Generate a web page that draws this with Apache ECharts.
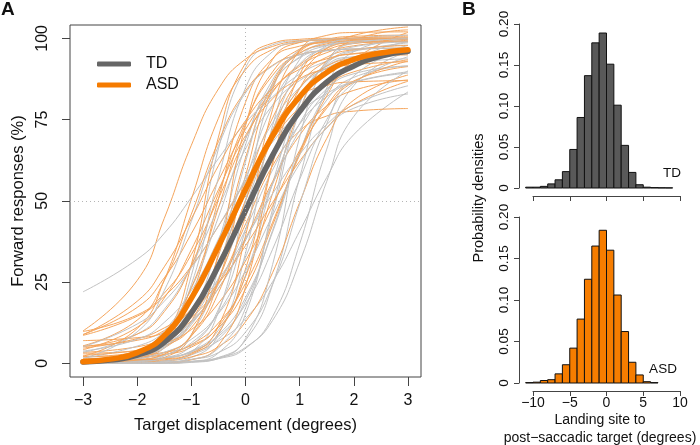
<!DOCTYPE html>
<html>
<head>
<meta charset="utf-8">
<script src="https://cdn.jsdelivr.net/npm/echarts@6/dist/echarts.min.js"></script>
<style>
html, body { margin: 0; padding: 0; background: #fff; }
#chart { width: 700px; height: 445px; }
</style>
</head>
<body>
<div id="chart"></div>
<script>
// x positions where the thin individual curves were read
const xThin = [-3, -2, -1.5, -1, -0.5, 0, 0.5, 1, 1.5, 2, 3];

// TD individual fits (% forward responses)
const tdCurves = [
  [0, 1.3, 6.5, 27, 66, 91, 98, 99.3, 99.5, 99.5, 99.5],
  [22, 32, 40, 51, 63, 74, 82, 89, 93, 96, 98.6],
  [0.1, 0.7, 1.6, 3.3, 6.9, 13.7, 25.1, 40.7, 57.2, 70.4, 83.5],
  [0, 0, 0.1, 0.4, 1.4, 4.6, 14.4, 36.7, 65.9, 85.5, 95.9],
  [0, 0, 0.1, 0.5, 1.8, 7.1, 24.2, 57.1, 84.7, 95.9, 99.7],
  [0, 0.3, 0.8, 2.6, 7.4, 19.2, 40.9, 65.2, 81, 88, 91.5],
  [1, 1.2, 1.7, 3.8, 10.2, 27.1, 55.5, 80.3, 92.2, 96.3, 97.9],
  [0, 0, 0.3, 1.8, 8.8, 33.9, 73.1, 93.5, 98.7, 99.7, 100],
  [0.7, 2.2, 5, 11.9, 26.2, 48.3, 70.3, 84.6, 91.5, 94.3, 95.8],
  [0.1, 1.4, 4.7, 14.7, 37.4, 67.2, 87.2, 95.3, 97.9, 98.6, 99],
  [3.4, 9, 16.6, 30, 48, 66, 79.4, 87, 90.8, 92.6, 93.7],
  [0.5, 2.6, 5.8, 12.4, 24.2, 41.2, 59.5, 73.6, 82, 86.4, 89.3],
  [0.6, 0.9, 1.7, 3.7, 8.8, 20.2, 40.4, 64.8, 83.3, 93.1, 99],
  [0, 0.6, 2.3, 8.9, 28.9, 62, 85.5, 94, 96.2, 96.7, 97],
  [0.8, 3.4, 6.7, 12.7, 23, 37.8, 55.3, 71.7, 83.8, 91.4, 97.8],
  [0.5, 3.9, 10, 23.1, 45, 69, 85.8, 94.3, 97.8, 99.2, 99.9],
  [0, 0, 0.1, 0.6, 3.2, 15.1, 47.5, 79.9, 91.7, 94.3, 95],
  [0, 0.6, 1.4, 3.6, 8.3, 18.2, 35.1, 56.6, 75, 86.2, 94.3],
  [1.2, 2.4, 5.3, 12.8, 29.8, 56, 79.3, 92.1, 97.2, 99.1, 100],
  [0.1, 0.9, 2.5, 6.3, 15.5, 32.6, 55.1, 73.8, 84.4, 89.1, 91.5],
  [0, 0.1, 0.4, 1.2, 3.3, 9.6, 24.3, 49, 73.7, 88.4, 96.8],
  [1.5, 9.7, 22.4, 43.7, 66.9, 83.2, 91.5, 94.9, 96.2, 96.7, 97],
  [1.6, 5.3, 9.3, 16, 25.9, 38.5, 52.2, 64.3, 73.5, 79.6, 85.4],
  [0, 0, 0.3, 1.2, 4.7, 17, 46, 77.6, 92.9, 97.4, 98.9],
  [0, 0.1, 0.7, 3.4, 15.9, 50, 84.1, 96.6, 99.3, 99.9, 100],
  [0, 0.2, 0.3, 0.6, 1.7, 4.9, 13.2, 31.2, 56, 76, 90],
  [0, 1.8, 7.1, 24.2, 57.1, 84.7, 95.9, 99, 99.7, 100, 100],
  [0.3, 1.5, 3.4, 7.4, 15.3, 28.5, 45.5, 61.4, 72.4, 78.5, 82.9],
  [3.8, 7.4, 12.6, 22.4, 38.2, 57.2, 74, 84.9, 90.8, 93.7, 95.5],
  [0, 0.5, 1.6, 5.4, 16.6, 41.1, 71.3, 90.3, 97.7, 100, 100.9],
  [0, 0, 0, 0.3, 1.5, 7.6, 30.4, 69.6, 92.4, 98.5, 99.9],
  [5.1, 12.1, 19.1, 29.4, 42.3, 56.1, 68.1, 77.1, 83, 86.6, 89.7]
];

// ASD individual fits
const asdCurves = [
  [10, 25.5, 44.6, 67.1, 84.4, 93.6, 97.5, 99.2, 99.7, 100, 100],
  [8.9, 17.2, 26.3, 39.9, 56.3, 72, 83.8, 91.4, 95.6, 97.7, 99.4],
  [7, 7.9, 9.4, 14, 24.7, 42.8, 60.8, 71.5, 76.1, 77.6, 78.4],
  [5.3, 7.1, 10.1, 16.8, 30, 50, 71.8, 87.9, 96.9, 100.9, 103.5],
  [5.4, 13.3, 25.5, 45.9, 68.2, 83.8, 91.7, 95, 96.3, 96.7, 97],
  [2, 3.4, 7.2, 20.7, 50.5, 80.3, 93.8, 97.6, 98.7, 99, 99],
  [1.1, 2.1, 4.7, 12.9, 33.1, 63.2, 86.2, 96.3, 99.6, 100.6, 101],
  [0.5, 0.6, 1.1, 2.8, 9.3, 29, 61.5, 84.6, 93, 95.2, 96],
  [3.4, 5.1, 7.8, 13.1, 23.1, 38.4, 55.9, 70.2, 79.2, 84, 87.2],
  [0, 1.5, 7.6, 30.4, 69.6, 92.4, 98.5, 99.7, 100, 100, 100],
  [2.1, 2.5, 3.4, 5.5, 11, 22.8, 42.5, 64.1, 79.2, 86.9, 91.3],
  [9.8, 14.9, 21.6, 33.5, 50.7, 69.2, 83.4, 91.9, 96.4, 98.4, 99.7],
  [1.5, 1.9, 2.7, 5, 11.4, 26.7, 52.3, 77.8, 93, 99.5, 102.6],
  [0, 0.3, 0.7, 2, 5.1, 12.8, 27.9, 49.5, 69.2, 81, 88.7],
  [0.8, 2.6, 6, 14.3, 30.7, 54.1, 75.5, 88.3, 94.2, 96.5, 97.8],
  [8.6, 14.5, 20.6, 29.9, 42.2, 56, 68.8, 78.8, 85.6, 89.7, 93.4],
  [2.2, 10.7, 25.6, 50.5, 75.4, 90.3, 96.6, 98.8, 99.6, 99.9, 100],
  [3.1, 3.8, 5.4, 11, 25.6, 50.2, 71.7, 82, 85.5, 86.6, 87],
  [0.2, 1.1, 2.6, 5.8, 12.4, 24.6, 43.4, 64.7, 82.3, 93.3, 101.8],
  [5.2, 9, 15.9, 30.2, 52.3, 74.3, 88.6, 95.5, 98.3, 99.4, 100],
  [0, 0, 0.2, 1.1, 5.5, 23.5, 61.6, 88.8, 96.9, 98.6, 99],
  [4.2, 11.1, 20.1, 35, 53.4, 70.1, 81.4, 87.6, 90.6, 91.9, 92.8],
  [1, 1.1, 1.4, 3.1, 11.4, 39.2, 78.1, 96.3, 100.9, 101.8, 102],
  [4.7, 7.6, 10.9, 16.3, 24.7, 36.2, 49.5, 62.2, 72.5, 79.7, 86.8],
  [0, 0.3, 1.8, 8.8, 33.9, 73.1, 93.5, 98.7, 99.7, 100, 100],
  [2.5, 4, 6.1, 10.4, 18.5, 31.5, 48.5, 65.5, 78.5, 86.6, 93],
  [1.5, 1.9, 3.3, 8.5, 25.3, 57.7, 84.9, 95.9, 99, 99.7, 100],
  [8.8, 19.1, 29.7, 44.5, 60.8, 74.7, 84.6, 90.5, 93.7, 95.3, 96.6],
  [0, 1, 2.9, 8.4, 21.7, 45, 69.4, 84.7, 91.4, 93.8, 94.9],
  [0.8, 3.6, 9.3, 23.3, 47.8, 73.6, 89.7, 96.7, 99.2, 100.1, 100.5]
];

// group mean curves
const xMean = [-3, -2.5, -2, -1.5, -1, -0.5, 0, 0.5, 1, 1.5, 2, 2.5, 3];
const tdMean = [0.4, 1.0, 2.5, 6.5, 15.5, 30, 47, 64, 77.5, 86.5, 91.5, 94.5, 96];
const asdMean = [0.5, 1.3, 3.3, 8.5, 20, 36, 53.5, 70, 82, 89.5, 93.5, 95.5, 96.5];

// histograms of landing error, bin width 1 deg
const tdBinLeft = [-11, -10, -9, -8, -7, -6, -5, -4, -3, -2, -1, 0, 1, 2, 3, 4, 5, 6, 7, 8];
const tdDensity = [0.001, 0.001, 0.002, 0.005, 0.01, 0.02, 0.047, 0.086, 0.137, 0.177,
                   0.189, 0.151, 0.101, 0.052, 0.019, 0.004, 0.001, 0.0005, 0.0003, 0.0002];
const asdBinLeft = [-11, -10, -9, -8, -7, -6, -5, -4, -3, -2, -1, 0, 1, 2, 3, 4, 5, 6];
const asdDensity = [0.0005, 0.001, 0.003, 0.004, 0.011, 0.022, 0.042, 0.077, 0.125, 0.165,
                    0.184, 0.160, 0.106, 0.062, 0.025, 0.0097, 0.0016, 0.0005];

const xTicksA = [-3, -2, -1, 0, 1, 2, 3];
const yTicksA = [0, 25, 50, 75, 100];

const FONT = 'Liberation Sans, Arial, Helvetica, sans-serif';
const AXC = '#444';
const TXT = '#111';
const minus = v => String(v).replace('-', '\u2212');

function zipXY(xs, ys) { return xs.map((x, i) => [x, ys[i]]); }

let chart = echarts.init(document.getElementById('chart'), null, { renderer: 'canvas' });

function thinLine(name, data, color) {
  return {
    name: name, type: 'line', xAxisIndex: 0, yAxisIndex: 0,
    data: data, smooth: 0.5, showSymbol: false, silent: true, z: 2,
    lineStyle: { color: color, width: 1 }
  };
}

let series = [];
// reference lines under everything
series.push({
  name: 'ref', type: 'line', xAxisIndex: 0, yAxisIndex: 0, data: [], silent: true, z: 1,
  markLine: {
    silent: true, symbol: ['none', 'none'], label: { show: false },
    lineStyle: { color: '#b5b5b5', type: [1, 3], width: 1 },
    data: [{ xAxis: 0 }, { yAxis: 50 }]
  }
});
// individual curves, groups interleaved
let n = Math.max(tdCurves.length, asdCurves.length);
for (let i = 0; i < n; i++) {
  if (i < tdCurves.length) series.push(thinLine('td' + i, zipXY(xThin, tdCurves[i]), '#c2c2c2'));
  if (i < asdCurves.length) series.push(thinLine('asd' + i, zipXY(xThin, asdCurves[i]), '#f5a55c'));
}
series.push({
  name: 'TD', type: 'line', xAxisIndex: 0, yAxisIndex: 0,
  data: zipXY(xMean, tdMean), smooth: 0.5,
  showSymbol: false, z: 4, itemStyle: { color: '#666666' },
  lineStyle: { color: '#666666', width: 5.5, cap: 'round' }
});
series.push({
  name: 'ASD', type: 'line', xAxisIndex: 0, yAxisIndex: 0,
  data: zipXY(xMean, asdMean), smooth: 0.5,
  showSymbol: false, z: 5, itemStyle: { color: '#f57b00' },
  lineStyle: { color: '#f57b00', width: 5.5, cap: 'round' }
});

function histSeries(idx, left, dens, fill) {
  return {
    type: 'custom', xAxisIndex: idx, yAxisIndex: idx, clip: false, silent: true,
    data: left.map((l, i) => [l, dens[i]]),
    renderItem: function (params, api) {
      let p0 = api.coord([api.value(0), 0]);
      let p1 = api.coord([api.value(0) + 1, api.value(1)]);
      return {
        type: 'rect',
        shape: { x: p0[0], y: p1[1], width: p1[0] - p0[0], height: p0[1] - p1[1] },
        style: { fill: fill, stroke: '#111', lineWidth: 1 }
      };
    }
  };
}
series.push(histSeries(1, tdBinLeft, tdDensity, '#595959'));
series.push(histSeries(2, asdBinLeft, asdDensity, '#f67d00'));

function histX(idx, showLabels) {
  return {
    type: 'value', gridIndex: idx, min: -10, max: 10, interval: 5, offset: 8,
    axisLine: { show: true, onZero: false, lineStyle: { color: AXC, width: 1 } },
    axisTick: { show: true, length: 5, lineStyle: { color: AXC } },
    axisLabel: { show: showLabels, margin: 5, fontSize: 14, fontFamily: FONT, color: TXT, formatter: minus },
    splitLine: { show: false }
  };
}
function histY(idx) {
  return {
    type: 'value', gridIndex: idx, min: 0, max: 0.2, interval: 0.05, offset: 14,
    axisLine: { show: true, onZero: false, lineStyle: { color: AXC, width: 1 } },
    axisTick: { show: true, length: 5, lineStyle: { color: AXC } },
    axisLabel: { rotate: 90, margin: 8, fontSize: 13.5, fontFamily: FONT, color: TXT,
                 formatter: v => v === 0 ? '0' : v.toFixed(2) },
    splitLine: { show: false }
  };
}

let option = {
  animation: false,
  backgroundColor: '#fff',
  textStyle: { fontFamily: FONT },
  grid: [
    { left: 70, top: 25, width: 351, height: 352, show: true, borderColor: AXC, borderWidth: 1,
      backgroundColor: 'transparent', containLabel: false, outerBoundsMode: 'none' },
    { left: 533, top: 24, width: 147, height: 164, containLabel: false, outerBoundsMode: 'none' },
    { left: 533, top: 217, width: 147, height: 166, containLabel: false, outerBoundsMode: 'none' }
  ],
  legend: {
    data: ['TD', 'ASD'], orient: 'vertical', left: 97, top: 56, padding: 0,
    itemWidth: 34, itemHeight: 5, itemGap: 5, icon: 'roundRect',
    selectedMode: false,
    textStyle: { fontSize: 16, fontFamily: FONT, color: TXT, padding: [0, 0, 0, 10] }
  },
  xAxis: [
    {
      type: 'value', gridIndex: 0, min: -3.24, max: 3.24,
      axisLine: { show: false, onZero: false },
      axisTick: { show: true, length: 9, customValues: xTicksA, lineStyle: { color: AXC } },
      axisLabel: { margin: 16, fontSize: 16, fontFamily: FONT, color: TXT, customValues: xTicksA, formatter: minus },
      splitLine: { show: false },
      name: 'Target displacement (degrees)', nameLocation: 'middle', nameGap: 40,
      nameTextStyle: { fontSize: 16.5, fontFamily: FONT, color: TXT }
    },
    histX(1, false),
    histX(2, true)
  ],
  yAxis: [
    {
      type: 'value', gridIndex: 0, min: -4.2, max: 104.1,
      axisLine: { show: false, onZero: false },
      axisTick: { show: true, length: 8, customValues: yTicksA, lineStyle: { color: AXC } },
      axisLabel: { rotate: 90, margin: 19, fontSize: 16, fontFamily: FONT, color: TXT, customValues: yTicksA },
      splitLine: { show: false },
      name: 'Forward responses (%)', nameLocation: 'middle', nameGap: 42,
      nameTextStyle: { fontSize: 16.5, fontFamily: FONT, color: TXT }
    },
    histY(1),
    histY(2)
  ],
  graphic: [
    { type: 'text', left: 1, top: 0, style: { text: 'A', font: 'bold 19px ' + FONT, fill: TXT } },
    { type: 'text', left: 462, top: 0, style: { text: 'B', font: 'bold 19px ' + FONT, fill: TXT } },
    { type: 'text', x: 479, y: 198, rotation: Math.PI / 2,
      style: { text: 'Probability densities', font: '14.5px ' + FONT, fill: TXT, align: 'center', verticalAlign: 'middle' } },
    { type: 'text', x: 600, y: 420,
      style: { text: 'Landing site to', font: '14px ' + FONT, fill: TXT, align: 'center', verticalAlign: 'middle' } },
    { type: 'text', x: 600, y: 438,
      style: { text: 'post\u2212saccadic target (degrees)', font: '14px ' + FONT, fill: TXT, align: 'center', verticalAlign: 'middle' } },
    { type: 'text', x: 672, y: 173,
      style: { text: 'TD', font: '13.5px ' + FONT, fill: TXT, align: 'center', verticalAlign: 'middle' } },
    { type: 'text', x: 663, y: 369,
      style: { text: 'ASD', font: '13.5px ' + FONT, fill: TXT, align: 'center', verticalAlign: 'middle' } }
  ],
  series: series
};

chart.setOption(option);
</script>
</body>
</html>
